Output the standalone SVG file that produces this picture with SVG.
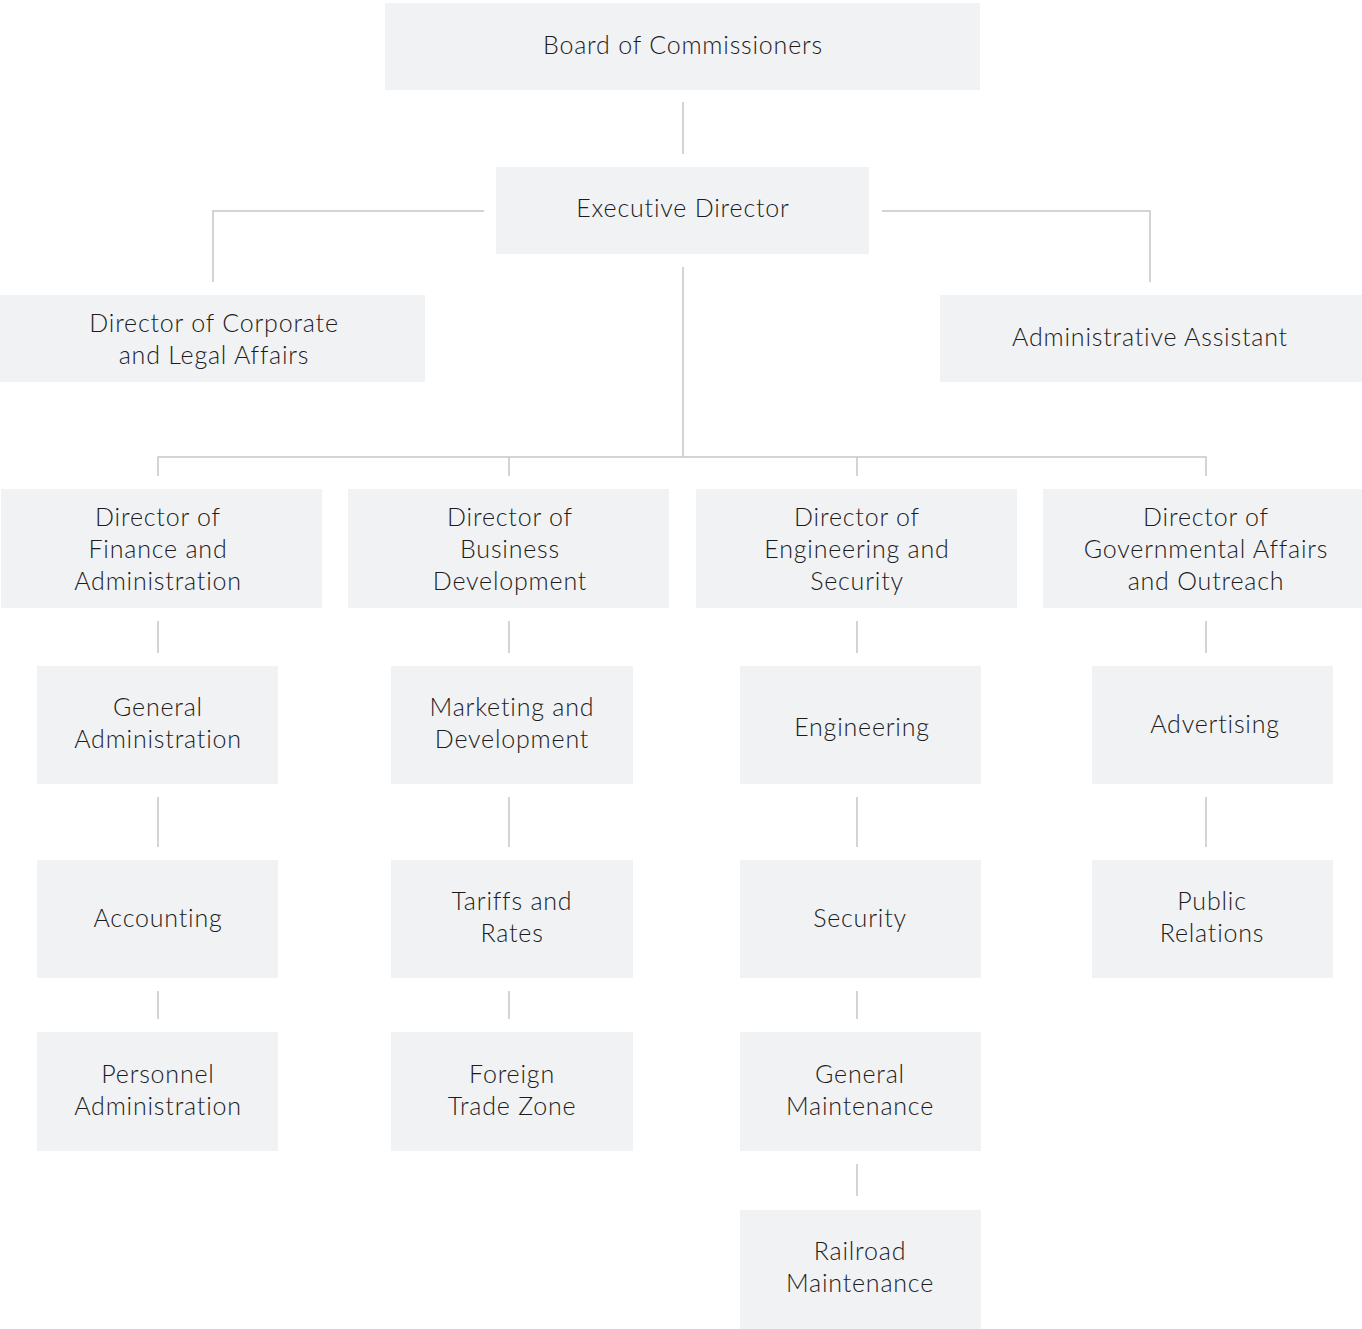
<svg xmlns="http://www.w3.org/2000/svg" width="1362" height="1329" viewBox="0 0 1362 1329">
<style>
.box{fill:#f1f2f4}
.t{font-family:Lato,"Open Sans","Liberation Sans",sans-serif;font-weight:300;font-size:25px;letter-spacing:0.8px;fill:#1c1c1c;text-anchor:middle}
.c{fill:none;stroke:#c6c6c6;stroke-width:1.5}
</style>
<rect width="1362" height="1329" fill="#ffffff"/>
<g id="connectors">
<path class="c" d="M683 102V154"/>
<path class="c" d="M484 211H213V282"/>
<path class="c" d="M882 211H1150V282"/>
<path class="c" d="M683 267V457"/>
<path class="c" d="M158 476V457H1206V476M509 457V476M857 457V476"/>
<path class="c" d="M158 621V653M509 621V653M857 621V653M1206 621V653"/>
<path class="c" d="M158 797V847M509 797V847M857 797V847M1206 797V847"/>
<path class="c" d="M158 991V1019M509 991V1019M857 991V1019"/>
<path class="c" d="M857 1164V1196"/>
</g>
<g id="board"><rect class="box" x="385" y="3" width="595" height="87"/><text class="t" x="683" y="54">Board of Commissioners</text></g>
<g id="exec"><rect class="box" x="496" y="167" width="373" height="87"/><text class="t" x="683" y="217">Executive Director</text></g>
<g id="corporate"><rect class="box" x="0" y="295" width="425" height="87"/><text class="t" x="214" y="332">Director of Corporate</text><text class="t" x="214" y="364">and Legal Affairs</text></g>
<g id="assistant"><rect class="box" x="940" y="295" width="422" height="87"/><text class="t" x="1150" y="346">Administrative Assistant</text></g>
<g id="dir-finance"><rect class="box" x="1" y="489" width="321" height="119"/><text class="t" x="158" y="526">Director of</text><text class="t" x="158" y="558">Finance and</text><text class="t" x="158" y="590">Administration</text></g>
<g id="dir-business"><rect class="box" x="348" y="489" width="321" height="119"/><text class="t" x="510" y="526">Director of</text><text class="t" x="510" y="558">Business</text><text class="t" x="510" y="590">Development</text></g>
<g id="dir-engineering"><rect class="box" x="696" y="489" width="321" height="119"/><text class="t" x="857" y="526">Director of</text><text class="t" x="857" y="558">Engineering and</text><text class="t" x="857" y="590">Security</text></g>
<g id="dir-gov"><rect class="box" x="1043" y="489" width="319" height="119"/><text class="t" x="1206" y="526">Director of</text><text class="t" x="1206" y="558">Governmental Affairs</text><text class="t" x="1206" y="590">and Outreach</text></g>
<g id="general-admin"><rect class="box" x="37" y="666" width="241" height="118"/><text class="t" x="158" y="716">General</text><text class="t" x="158" y="748">Administration</text></g>
<g id="marketing"><rect class="box" x="391" y="666" width="242" height="118"/><text class="t" x="512" y="716">Marketing and</text><text class="t" x="512" y="748">Development</text></g>
<g id="engineering"><rect class="box" x="740" y="666" width="241" height="118"/><text class="t" x="862" y="736">Engineering</text></g>
<g id="advertising"><rect class="box" x="1092" y="666" width="241" height="118"/><text class="t" x="1215" y="733">Advertising</text></g>
<g id="accounting"><rect class="box" x="37" y="860" width="241" height="118"/><text class="t" x="158" y="927">Accounting</text></g>
<g id="tariffs"><rect class="box" x="391" y="860" width="242" height="118"/><text class="t" x="512" y="910">Tariffs and</text><text class="t" x="512" y="942">Rates</text></g>
<g id="security"><rect class="box" x="740" y="860" width="241" height="118"/><text class="t" x="860" y="927">Security</text></g>
<g id="public-relations"><rect class="box" x="1092" y="860" width="241" height="118"/><text class="t" x="1212" y="910">Public</text><text class="t" x="1212" y="942">Relations</text></g>
<g id="personnel"><rect class="box" x="37" y="1032" width="241" height="119"/><text class="t" x="158" y="1083">Personnel</text><text class="t" x="158" y="1115">Administration</text></g>
<g id="ftz"><rect class="box" x="391" y="1032" width="242" height="119"/><text class="t" x="512" y="1083">Foreign</text><text class="t" x="512" y="1115">Trade Zone</text></g>
<g id="general-maint"><rect class="box" x="740" y="1032" width="241" height="119"/><text class="t" x="860" y="1083">General</text><text class="t" x="860" y="1115">Maintenance</text></g>
<g id="railroad"><rect class="box" x="740" y="1210" width="241" height="119"/><text class="t" x="860" y="1260">Railroad</text><text class="t" x="860" y="1292">Maintenance</text></g>
</svg>
